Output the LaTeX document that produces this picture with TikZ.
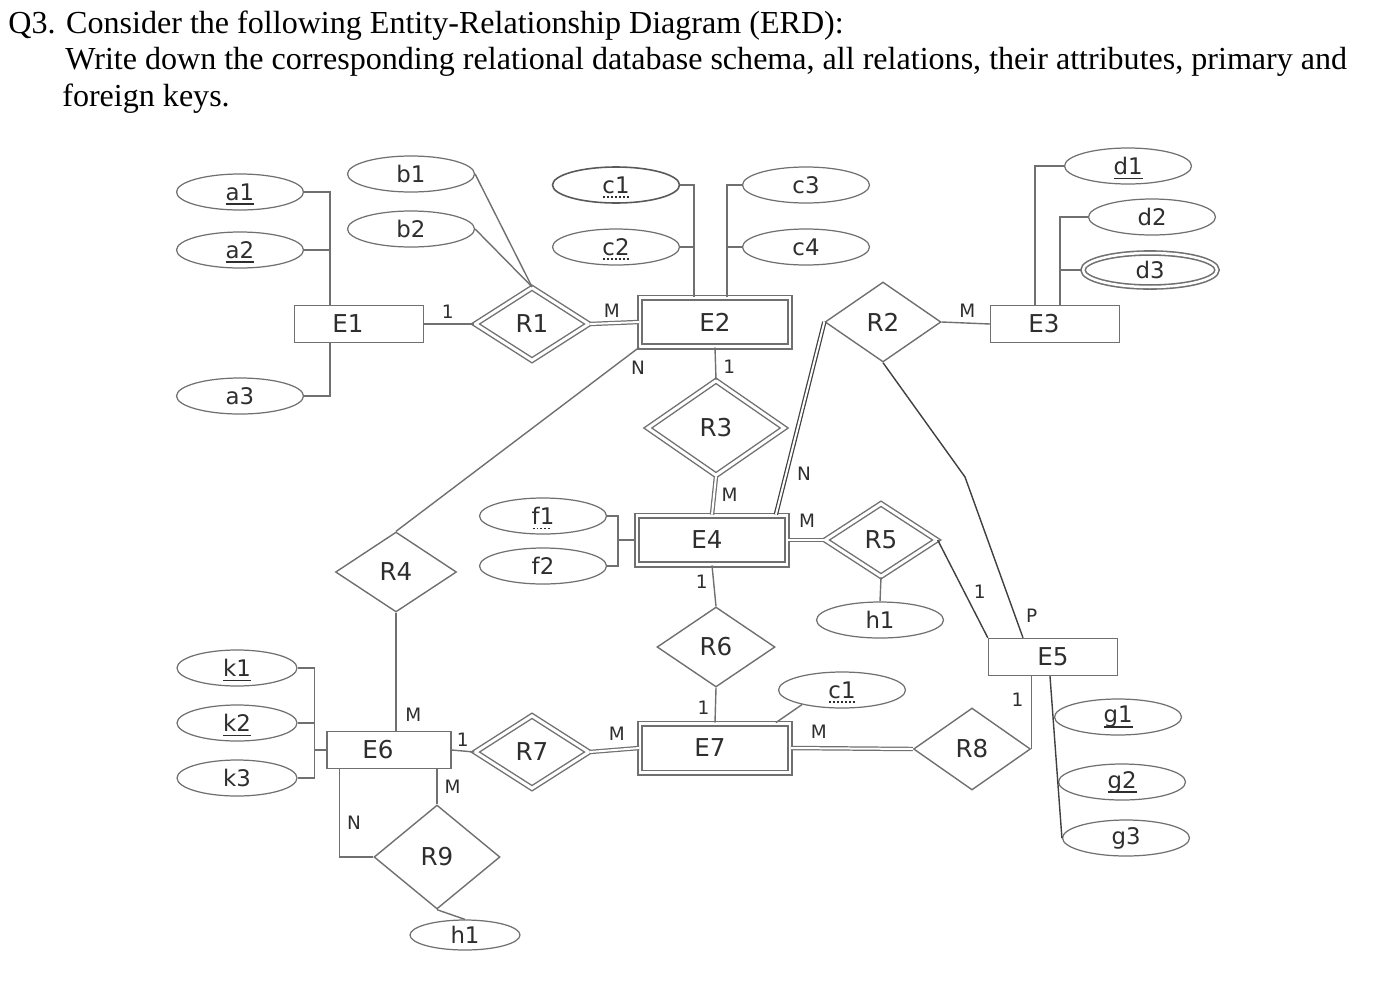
\documentclass[tikz,border=0pt]{standalone}
\usepackage{fontspec}
\setmainfont{Liberation Serif}
\newfontfamily\erfont{DejaVu Sans}
\usetikzlibrary{shapes.geometric,calc}

\definecolor{erline}{HTML}{707070}
\definecolor{ertext}{HTML}{2E2E2E}

% solid and dotted underlines for key attributes
\newcommand\keyul[1]{\setbox0\hbox{#1}\copy0\llap{\raisebox{-2.6pt}[0pt][0pt]{\vrule width\wd0 height 0.8pt}}}
\newcommand\partul[1]{\setbox0\hbox{#1}\copy0\llap{\raisebox{-2.6pt}[0pt][0pt]{\hbox to\wd0{\leaders\hbox to 2.2pt{\hss\vrule width 1.1pt height 0.8pt\hss}\hfil}}}}

\begin{document}
\begin{tikzpicture}[x=0.02cm, y=-0.02cm,
  attr/.style={ellipse, draw=erline, line width=0.7pt, minimum width=2.54cm, minimum height=0.72cm, inner sep=0pt, text=ertext, font=\erfont\fontsize{13}{15}\selectfont},
  mattr/.style={attr, double=white, double distance=0.05cm, line width=0.9pt, minimum width=2.68cm, minimum height=0.68cm},
  ent/.style={rectangle, draw=erline, line width=0.8pt, minimum width=2.58cm, minimum height=0.74cm, inner sep=0pt, text=ertext, font=\erfont\fontsize{14}{16}\selectfont},
  went/.style={ent, double=white, double distance=0.05cm, line width=1pt, minimum width=3cm, minimum height=0.98cm},
  rel/.style={diamond, draw=erline, line width=0.8pt, minimum width=2.36cm, minimum height=1.6cm, inner sep=0pt, text=ertext, font=\erfont\fontsize{14}{16}\selectfont},
  wrel/.style={rel, double=white, double distance=0.06cm, minimum width=2.28cm, minimum height=1.46cm},
  card/.style={inner sep=2pt, text=ertext, font=\erfont\fontsize{10.5}{11}\selectfont},
  link/.style={draw=erline, line width=0.8pt},
  dlink/.style={link, double=white, double distance=0.04cm, line width=0.7pt},
  head/.style={anchor=base west, inner sep=0pt, font=\fontsize{18.25}{21}\selectfont}]
  \useasboundingbox (0,0) rectangle (1378,984);

  % question
  \node[head] (q1) at (8,33) {Q3. Consider the following Entity-Relationship Diagram (ERD):};
  \node[head] (q2) at (65,69) {Write down the corresponding relational database schema, all relations, their attributes, primary and};
  \node[head] (q3) at (62,106) {foreign keys.};

  % entities
  \node[ent] (E1) at (359,324) {E1\kern0.44cm};
  \node[went] (E2) at (715,322) {E2};
  \node[ent] (E3) at (1055,324) {E3\kern0.44cm};
  \node[went] (E4) at (712,540) {E4\kern0.2cm};
  \node[ent] (E5) at (1053,657) {E5};
  \node[ent, minimum width=2.48cm] (E6) at (389,750) {E6\kern0.44cm};
  \node[went] (E7) at (715,748) {E7\kern0.2cm};

  % relationships
  \node[wrel] (R1) at (532,324) {R1};
  \node[rel, minimum width=2.32cm] (R2) at (883,322) {R2};
  \node[wrel, minimum width=2.74cm, minimum height=1.9cm] (R3) at (716,428) {R3};
  \node[rel, minimum width=2.42cm] (R4) at (396,572) {R4};
  \node[wrel, minimum width=2.24cm] (R5) at (881,540) {R5};
  \node[rel] (R6) at (716,647) {R6};
  \node[wrel] (R7) at (532,752) {R7};
  \node[rel, minimum width=2.34cm, minimum height=1.64cm] (R8) at (972,749) {R8};
  \node[rel, minimum width=2.52cm, minimum height=2.08cm] (R9) at (437,857) {R9};

  % attributes
  \node[attr] (a1) at (240,192) {\keyul{a1}};
  \node[attr] (a2) at (240,250) {\keyul{a2}};
  \node[attr] (a3) at (240,396) {a3};
  \node[attr] (b1) at (411,174) {b1};
  \node[attr] (b2) at (411,229) {b2};
  \node[attr, line width=0.9pt, draw=black!65] (c1) at (616,185) {\partul{c1}};
  \node[attr] (c2) at (616,247) {\partul{c2}};
  \node[attr] (c3) at (806,185) {c3};
  \node[attr] (c4) at (806,247) {c4};
  \node[attr] (d1) at (1128,166) {\keyul{d1}};
  \node[attr] (d2) at (1152,217) {d2};
  \node[mattr] (d3) at (1150,270) {d3};
  \node[attr] (f1) at (543,516) {\partul{f1}};
  \node[attr] (f2) at (543,566) {f2};
  \node[attr] (h1a) at (880,620) {h1};
  \node[attr] (c1b) at (842,690) {\partul{c1}};
  \node[attr, minimum width=2.4cm] (k1) at (237,668) {\keyul{k1}};
  \node[attr, minimum width=2.4cm] (k2) at (237,723) {\keyul{k2}};
  \node[attr, minimum width=2.4cm] (k3) at (237,778) {k3};
  \node[attr] (g1) at (1118,717) {\keyul{g1}};
  \node[attr] (g2) at (1122,782) {\keyul{g2}};
  \node[attr] (g3) at (1126,838) {g3};
  \node[attr, minimum width=2.2cm, minimum height=0.6cm] (h1b) at (465,935) {h1};

  % attribute links
  \coordinate (e1a) at ([xshift=-0.58cm]E1.north);
  \draw[link] (a1.east) -| (e1a);
  \draw[link] (a2.east) -- (a2.east -| e1a);
  \draw[link] (a3.east) -| ([xshift=-0.58cm]E1.south);
  \draw[link] (b1.east) -- (R1.north);
  \draw[link] (b2.east) -- (R1.north);
  \coordinate (e2a) at ([xshift=-0.42cm]E2.north);
  \coordinate (e2b) at ([xshift=0.24cm]E2.north);
  \draw[link] (c1.east) -| (e2a);
  \draw[link] (c2.east) -- (c2.east -| e2a);
  \draw[link] (c3.west) -| (e2b);
  \draw[link] (c4.west) -- (c4.west -| e2b);
  \coordinate (e3b) at ([xshift=0.1cm]E3.north);
  \draw[link] (d1.west) -| ([xshift=-0.4cm]E3.north);
  \draw[link] (d2.west) -| (e3b);
  \draw[link] (d3.west) -- (d3.west -| e3b);
  \coordinate (fbus) at ([xshift=-0.36cm]E4.west);
  \draw[link] (f1.east) -| (f2.east -| fbus) -- (f2.east);
  \draw[link] (fbus) -- (E4.west);
  \draw[link] (R5.south) -- (h1a.north);
  \draw[link] ([xshift=-0.3cm]E7.north east) -- (c1b.200);
  \coordinate (kbus) at ([xshift=-0.24cm]E6.west);
  \draw[link] (k1.east) -| (k3.east -| kbus) -- (k3.east);
  \draw[link] (k2.east) -- (k2.east -| kbus);
  \draw[link] (kbus) -- (E6.west);
  \draw[link, draw=black!75] ([xshift=-0.06cm]E5.south) -- (g3.west);
  \draw[link] (R9.south) -- (h1b.north);

  % relationship links
  \draw[link] (E1.east) -- node[card, above=1pt, pos=0.47] {1} (R1.west);
  \draw[dlink] (R1.east) -- node[card, above=1pt, pos=0.45] {M} (E2.west);
  \draw[link] (E2.south west) -- node[card, below right, pos=0.05] {N} (R4.north);
  \draw[link] (E2.south) -- node[card, right=2pt, pos=0.6] {1} (R3.north);
  \draw[dlink, draw=black!75] (R2.west) -- node[card, right=4pt, pos=0.79] {N} ([xshift=-0.24cm]E4.north east);
  \draw[link] (R2.east) -- node[card, above=1pt, pos=0.53] {M} (E3.west);
  \coordinate (r2b) at (965,477);
  \draw[link, draw=black!75] (R2.south) -- (r2b) -- node[card, right=4pt, pos=0.86] {P} ([xshift=-0.6cm]E5.north);
  \draw[dlink] (R3.south) -- node[card, right=2pt, pos=0.49] {M} (E4.north);
  \draw[dlink] (E4.east) -- node[card, above=5pt, pos=0.53] {M} (R5.west);
  \draw[link, draw=black!75] (R5.east) -- node[card, right=3pt, pos=0.53] {1} (E5.north west);
  \draw[link] (E4.south) -- node[card, left=1pt, pos=0.41] {1} (R6.north);
  \draw[link] (R6.south) -- node[card, left=1pt, pos=0.575] {1} (E7.north);
  \draw[link] (R4.south) -- node[card, right=3pt, pos=0.86] {M} (R4.south |- E6.north);
  \draw[link] (E6.east) -- node[card, above=0pt, pos=0.49] {1} (R7.west);
  \draw[dlink] (R7.east) -- node[card, above=3pt, pos=0.55] {M} (E7.west);
  \draw[dlink] (E7.east) -- node[card, above=3pt, pos=0.23] {M} (R8.west);
  \draw[link] (R8.east) -- node[card, left=2pt, pos=0.68] {1} (R8.east |- E5.south);
  \draw[link] (R9.north) -- node[card, right=2pt, pos=0.49] {M} (R9.north |- E6.south);
  \draw[link] ([xshift=0.26cm]E6.south west) |- node[card, right=2pt, pos=0.305] {N} (R9.west);
\end{tikzpicture}
\end{document}
